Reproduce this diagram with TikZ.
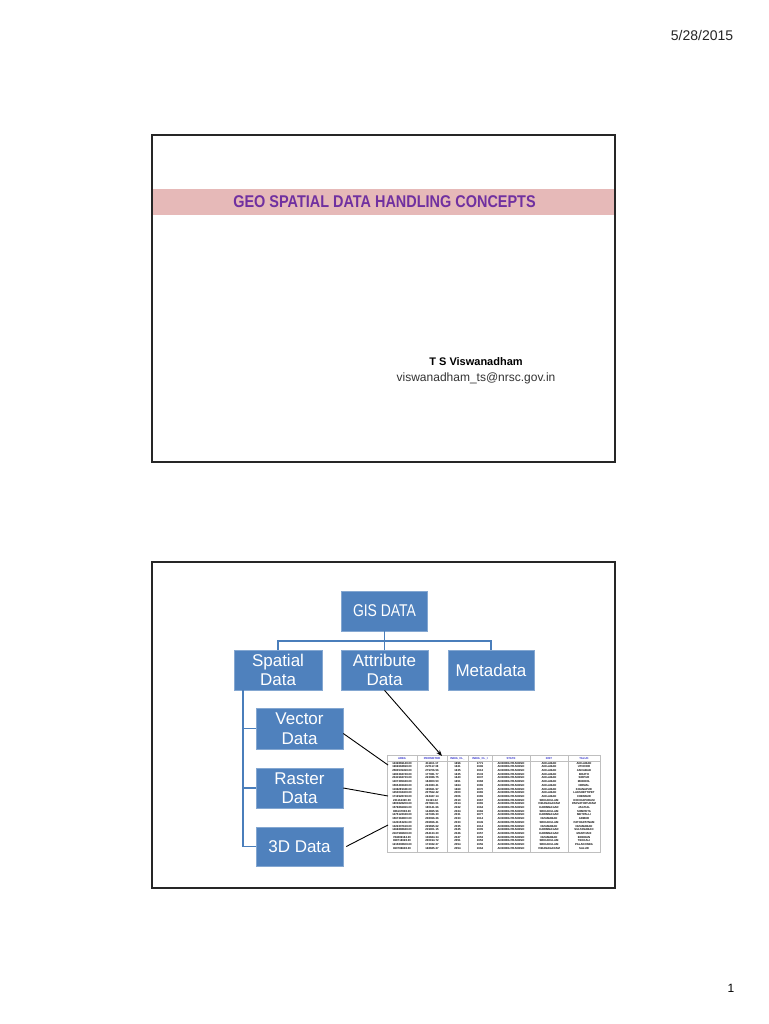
\documentclass[tikz,border=0pt]{standalone}
\usepackage{fontspec}
\setmainfont{Liberation Sans}
\usetikzlibrary{arrows.meta}
\definecolor{boxblue}{HTML}{4F81BD}
\definecolor{treeline}{HTML}{4A7EBB}
\definecolor{titlepink}{HTML}{E6B9B8}
\definecolor{titlepurple}{HTML}{7030A0}
\definecolor{hdrblue}{HTML}{3333CC}
\tikzset{
  frame/.style={draw=black!85, line width=1.1pt},
  gisbox/.style={fill=boxblue, draw=boxblue!70!white, line width=0.6pt, text=white, align=center,
     font=\fontsize{17}{19.5}\selectfont, inner sep=0pt},
  tree/.style={draw=treeline, line width=1.6pt},
  link/.style={draw=black, line width=0.9pt},
  cell/.style={font=\fontsize{2.8}{3}\selectfont\bfseries, text=black, inner sep=0pt},
  hcell/.style={font=\fontsize{2.8}{3}\selectfont\bfseries, text=hdrblue, inner sep=0pt},
  grid/.style={draw=black!25, line width=0.3pt}
}
\begin{document}
\begin{tikzpicture}[x=1pt,y=-1pt]
\useasboundingbox (0,0) rectangle (768,1024);
\fill[white] (0,0) rectangle (768,1024);

% header / footer
\node[font=\fontsize{14}{16}\selectfont, text=black!85] (date) at (702,35) {5/28/2015};
\node[font=\fontsize{12}{14}\selectfont] (pagenum) at (731,988) {1};

% ---------- slide 1 ----------
\fill[titlepink] (152,189) rectangle (615,215);
\node[font=\fontsize{17}{19}\selectfont\bfseries, text=titlepurple] (title) at (384.5,202)
   {\scalebox{0.85}[1]{GEO SPATIAL DATA HANDLING CONCEPTS}};
\node[font=\fontsize{11}{13}\selectfont\bfseries] (author) at (476,362) {T S Viswanadham};
\node[font=\fontsize{12}{14}\selectfont, text=black!80] (email) at (476,378) {viswanadham\_ts@nrsc.gov.in};
\draw[frame] (152,135) rectangle (615,462);

% ---------- slide 2 ----------
\draw[frame] (152,562) rectangle (615,888);

\node[gisbox, minimum width=86pt, minimum height=40pt] (gis) at (384.5,611)
   {\scalebox{0.82}[1]{GIS DATA}};
\node[gisbox, minimum width=88pt, minimum height=40pt] (spatial) at (278,670) {Spatial\\Data};
\node[gisbox, minimum width=87pt, minimum height=40pt] (attribute) at (384.5,670) {Attribute\\Data};
\node[gisbox, minimum width=86pt, minimum height=40pt] (metadata) at (491,670) {Metadata};
\node[gisbox, minimum width=87pt, minimum height=41pt] (vector) at (299.5,728.5) {Vector\\Data};
\node[gisbox, minimum width=87pt, minimum height=40pt] (raster) at (299.5,788) {Raster\\Data};
\node[gisbox, minimum width=87pt, minimum height=39pt] (d3) at (299.5,846.5) {3D Data};

% tree connectors
\coordinate (hub) at (384.5,641);
\draw[tree] (gis.south) -- (hub);
\draw[tree] (spatial.north) |- (hub) -| (metadata.north);
\draw[tree] (hub) -- (attribute.north);
\coordinate (spine) at ([xshift=-35pt]spatial.south);
\draw[tree] (spine) |- (d3.west);
\draw[tree] (spine) |- (vector.west);
\draw[tree] (spine) |- (raster.west);

% ---------- attribute table ----------
\draw[grid] (387,755) rectangle (600,852);
\foreach \xx in {417,447,468,492,530,568} {\draw[grid] (\xx,755) -- (\xx,852);}
\draw[grid] (387,760.8) -- (600,760.8);
\node[hcell] (h1) at (402,758.2) {AREA};
\node[hcell] (h2) at (432,758.2) {PERIMETER};
\node[hcell] (h3) at (457.5,758.2) {INDIA\_CL\_};
\node[hcell] (h4) at (480,758.2) {INDIA\_CL\_I};
\node[hcell] (h5) at (511,758.2) {STATE};
\node[hcell] (h6) at (549,758.2) {DIST};
\node[hcell] (h7) at (584,758.2) {TALUK};
\foreach \ca/\cb/\cc/\cd/\ce/\cf/\cg [count=\i] in {
1432869148.00/211161.17/1696/1771/ANDHRA PRADESH/ADILABAD/ADILABAD,
1969684698.00/227117.38/1621/1996/ANDHRA PRADESH/ADILABAD/UTNOOR,
2583539498.00/279706.56/1635/1912/ANDHRA PRADESH/ADILABAD/ASIFABAD,
1283384748.00/177081.77/1635/1533/ANDHRA PRADESH/ADILABAD/BOATH,
2041984739.00/223086.75/1640/1837/ANDHRA PRADESH/ADILABAD/SIRPUR,
1407385948.00/184800.50/1651/1968/ANDHRA PRADESH/ADILABAD/MUDHOL,
1565483948.00/224383.41/1664/1965/ANDHRA PRADESH/ADILABAD/NIRMAL,
1196289048.00/165661.97/1669/1870/ANDHRA PRADESH/ADILABAD/KHANAPUR,
1453094408.00/207562.42/2000/1965/ANDHRA PRADESH/ADILABAD/LAKSHETTIPET,
1719928748.00/224427.14/2006/1965/ANDHRA PRADESH/ADILABAD/CHENNUR,
231164320.00/81323.32/2010/1967/ANDHRA PRADESH/SRIKAKULAM/ICHCHAPURAM,
1800828208.00/207863.01/2014/1965/ANDHRA PRADESH/VIZIANAGARAM/PARVATHIPURAM,
1576866966.00/180141.66/2022/1964/ANDHRA PRADESH/KARIMNAGAR/JAGTIAL,
986167808.00/144865.96/2024/1966/ANDHRA PRADESH/SRIKAKULAM/SOMPETA,
1475122048.00/147326.30/2031/1877/ANDHRA PRADESH/KARIMNAGAR/METPALLI,
1567384800.00/208066.26/2033/1914/ANDHRA PRADESH/NIZAMABAD/ARMUR,
1124152224.00/206656.41/2033/1949/ANDHRA PRADESH/SRIKAKULAM/PATHAPATNAM,
1322207168.00/229695.62/2035/1914/ANDHRA PRADESH/NIZAMABAD/NIZAMABAD,
1466888848.00/219901.15/2045/1905/ANDHRA PRADESH/KARIMNAGAR/SULTANABAD,
2167986608.00/254133.20/2046/1957/ANDHRA PRADESH/KARIMNAGAR/MANTHANI,
784889184.00/136684.34/2047/1953/ANDHRA PRADESH/NIZAMABAD/BODHAN,
968716928.00/200194.72/2051/1952/ANDHRA PRADESH/SRIKAKULAM/TEKKALI,
1215808608.00/173022.27/2054/1956/ANDHRA PRADESH/SRIKAKULAM/PALAKONDA,
960786608.00/168685.27/2054/1964/ANDHRA PRADESH/VIZIANAGARAM/SALUR} {
  \pgfmathsetmacro{\yy}{759.5+3.7*\i}
  \node[cell] (r\i-1) at (402,\yy) {\ca};
  \node[cell] (r\i-2) at (432,\yy) {\cb};
  \node[cell] (r\i-3) at (457.5,\yy) {\cc};
  \node[cell] (r\i-4) at (480,\yy) {\cd};
  \node[cell] (r\i-5) at (511,\yy) {\ce};
  \node[cell] (r\i-6) at (549,\yy) {\cf};
  \node[cell] (r\i-7) at (584,\yy) {\cg};
}

% links to table
\coordinate (tattr) at (442,756);
\coordinate (tvec) at (388,765);
\coordinate (tras) at (388,796);
\coordinate (t3d) at (388,825);
\draw[link, -{Stealth[length=6pt,width=4.5pt]}] (attribute.south) -- (tattr);
\draw[link] ([yshift=-5pt]vector.east) -- (tvec);
\draw[link] (raster.east) -- (tras);
\draw[link] ([xshift=3pt]d3.east) -- (t3d);
\end{tikzpicture}
\end{document}
